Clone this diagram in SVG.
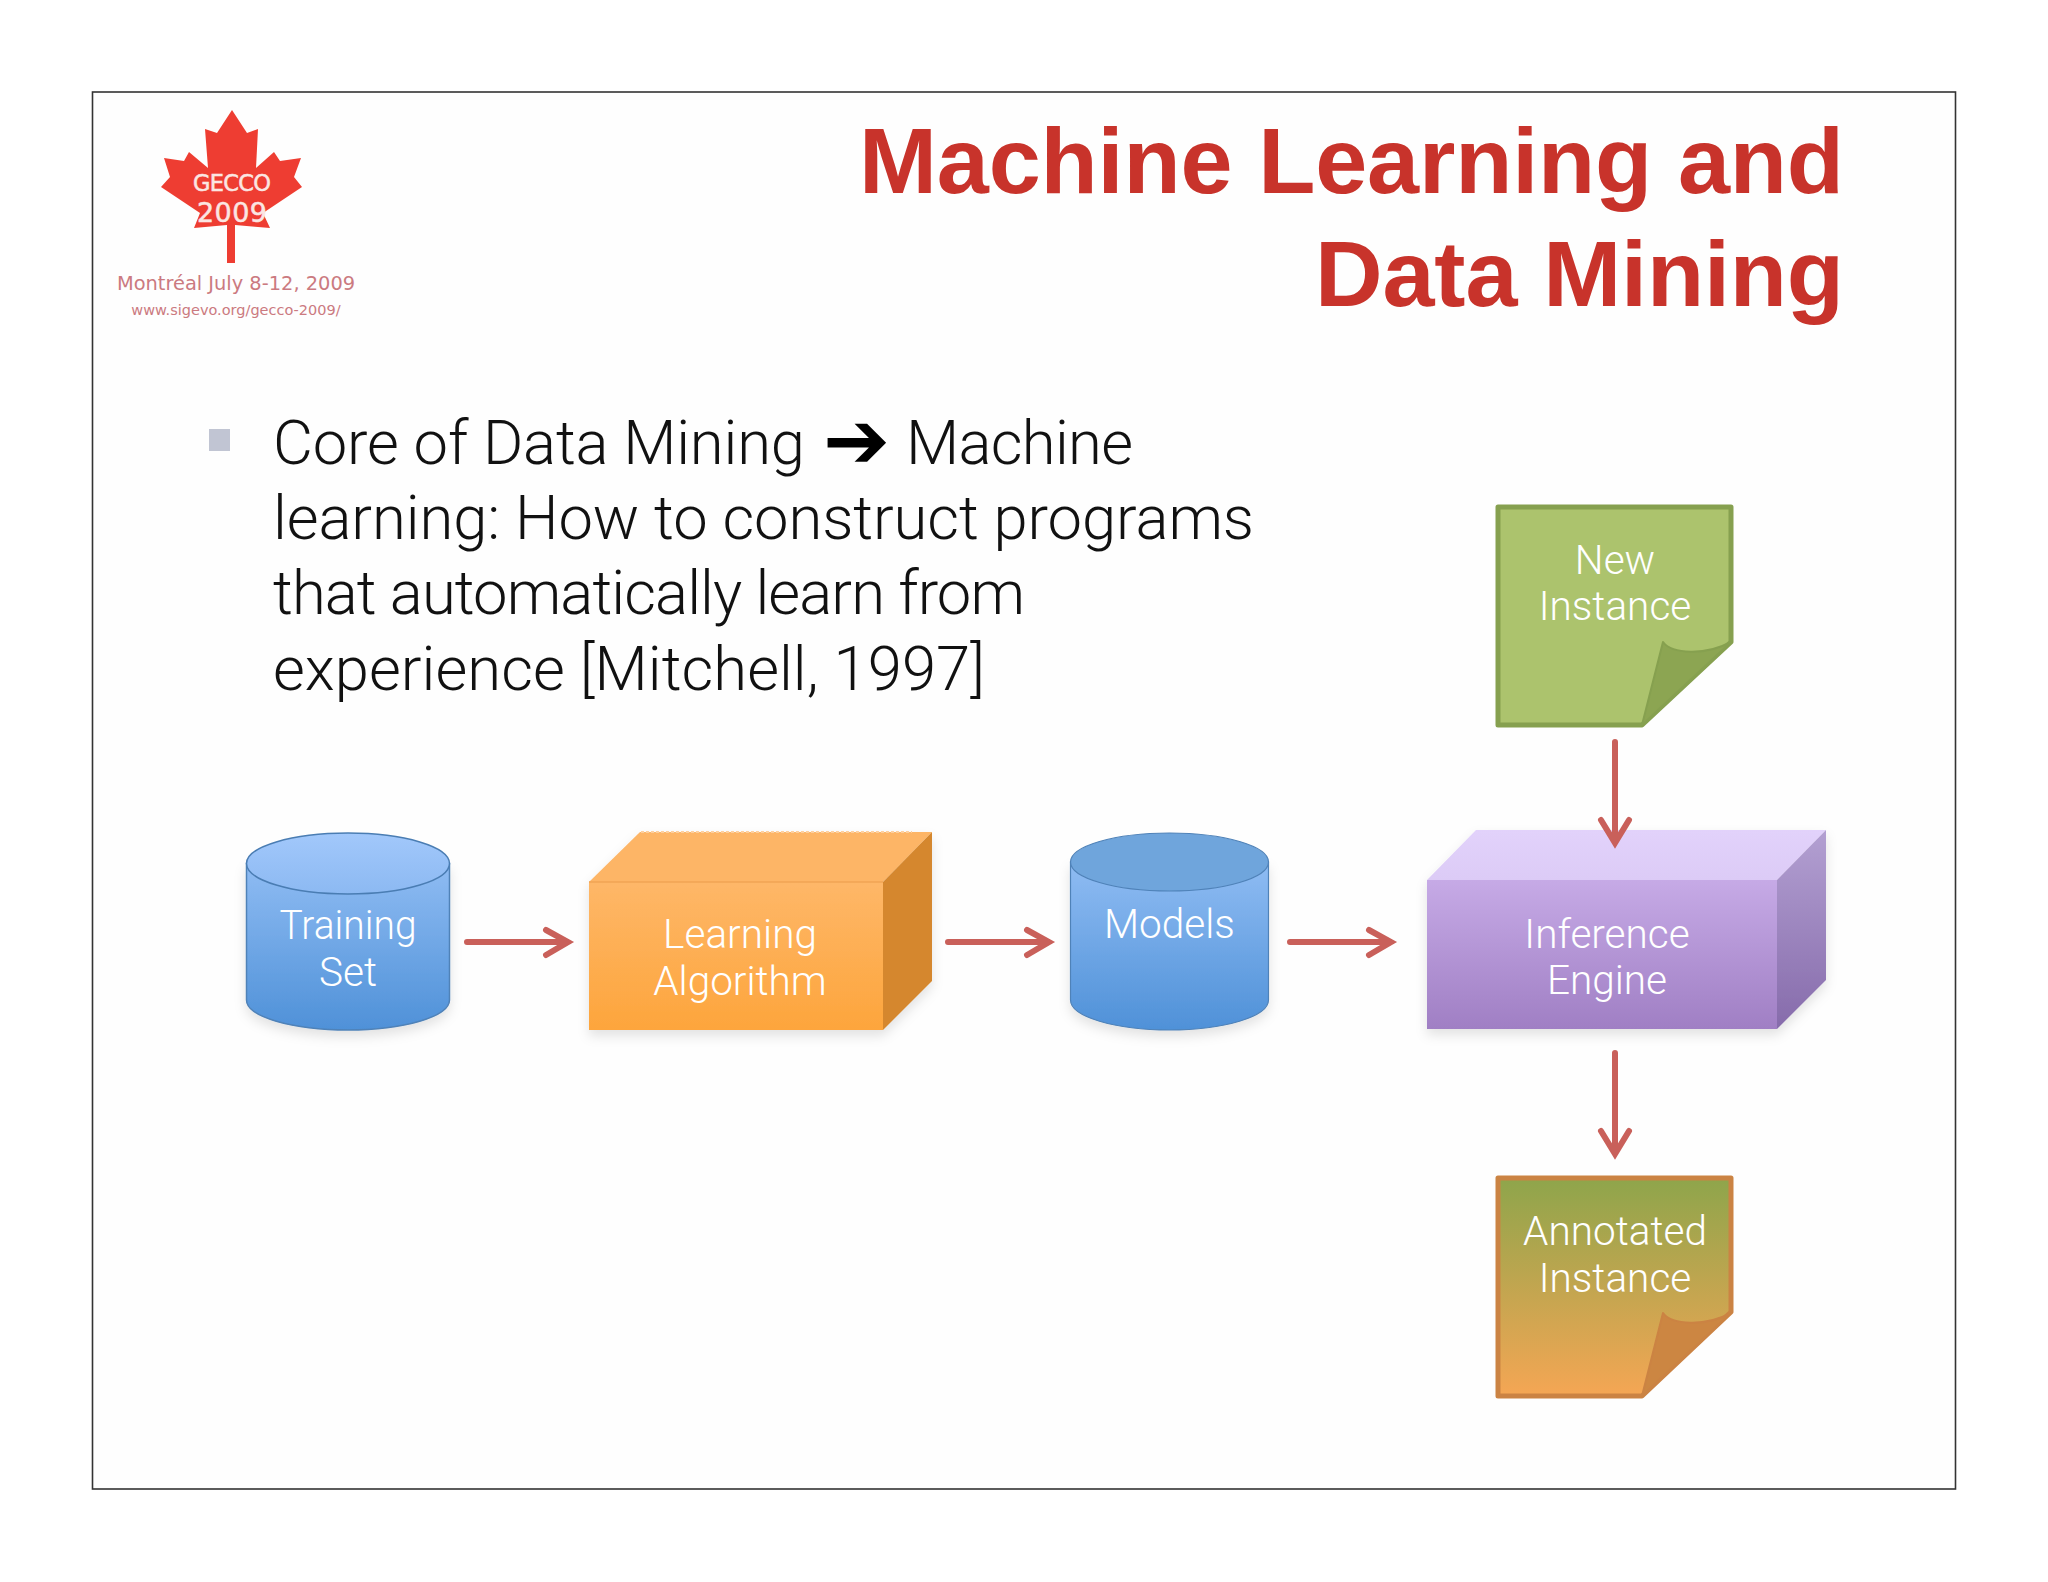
<svg xmlns="http://www.w3.org/2000/svg" width="2048" height="1582" viewBox="0 0 2048 1582">
<defs>
<style>
.t{font-family:"Liberation Sans",Arial,sans-serif;font-weight:700;font-size:93.6px;fill:#c8332b;text-anchor:end}
.b{font-family:Roboto,"Liberation Sans",sans-serif;font-weight:300;font-size:61.5px;fill:#111}
.n{font-family:Roboto,"Liberation Sans",sans-serif;font-weight:300;font-size:40.5px;fill:#fff;text-anchor:middle}
.l{font-family:"DejaVu Sans",sans-serif;text-anchor:middle}
.a{fill:none;stroke:#c9605a;stroke-width:6;stroke-linecap:round;stroke-linejoin:miter}
</style>
<linearGradient id="cy" x1="0" y1="0" x2="0" y2="1"><stop offset="0" stop-color="#8fbcf3"/><stop offset="1" stop-color="#4f91d8"/></linearGradient>
<linearGradient id="cyt" x1="0" y1="0" x2="0" y2="1"><stop offset="0" stop-color="#a2c8fb"/><stop offset="1" stop-color="#8cb9f2"/></linearGradient>
<linearGradient id="of" x1="0" y1="0" x2="0" y2="1"><stop offset="0" stop-color="#feb768"/><stop offset="1" stop-color="#fda53c"/></linearGradient>
<linearGradient id="pf" x1="0" y1="0" x2="0" y2="1"><stop offset="0" stop-color="#c6aae6"/><stop offset="1" stop-color="#a07fc4"/></linearGradient>
<linearGradient id="pt" x1="0" y1="0" x2="0" y2="1"><stop offset="0" stop-color="#e2d2fb"/><stop offset="1" stop-color="#dccbf6"/></linearGradient>
<linearGradient id="ps" x1="0" y1="0" x2="0" y2="1"><stop offset="0" stop-color="#b3a0d2"/><stop offset="1" stop-color="#866bab"/></linearGradient>
<linearGradient id="an" x1="0" y1="0" x2="0" y2="1"><stop offset="0" stop-color="#8ea54b"/><stop offset="1" stop-color="#f5a654"/></linearGradient>
<filter id="sh" x="-10%" y="-10%" width="120%" height="125%"><feDropShadow dx="0" dy="6" stdDeviation="6" flood-color="#000" flood-opacity="0.11"/></filter>
<filter id="soft" x="-5%" y="-5%" width="110%" height="110%"><feGaussianBlur stdDeviation="0.6"/></filter>
</defs>
<rect width="2048" height="1582" fill="#fff"/>
<rect id="frame" x="92.5" y="92" width="1863" height="1397" fill="#fefefe" stroke="#333" stroke-width="1.6"/>

<g id="logo">
<polygon filter="url(#soft)" fill="#ee3e30" points="232,110 247,133 258,129 256,168 274,152 280,161 301,158 294,177 302,187 263,213 270,228 235,225 235,263 227,263 227,225 194,228 200,213 161,187 170,177 164,158 184,161 189,152 208,168 205,129 217,133"/>
<text class="l" x="232" y="191" font-size="22.5" fill="#fbe6e2" textLength="78" stroke="#fbe6e2" stroke-width="0.5">GECCO</text>
<text class="l" x="232" y="222" font-size="27" fill="#fbe6e2" textLength="70" stroke="#fbe6e2" stroke-width="0.5">2009</text>
<text class="l" x="236" y="290" font-size="19.4" fill="#cb7a80">Montréal July 8-12, 2009</text>
<text class="l" x="236" y="315" font-size="14.5" fill="#cb7a80">www.sigevo.org/gecco-2009/</text>
</g>

<g id="title">
<text class="t" x="1844" y="193" textLength="985">Machine Learning and</text>
<text class="t" x="1844" y="306" textLength="529">Data Mining</text>
</g>

<g id="body">
<rect x="209" y="429" width="21" height="22" fill="#c1c5d3"/>
<text class="b" x="273" y="464" textLength="532">Core of Data Mining</text>
<text x="823" y="468" font-family="DejaVu Sans,sans-serif" font-size="80" fill="#000">➔</text>
<text class="b" x="906" y="464" textLength="227">Machine</text>
<text class="b" x="273" y="539" textLength="981">learning: How to construct programs</text>
<text class="b" x="273" y="614" textLength="752">that automatically learn from</text>
<text class="b" x="273" y="690" textLength="712">experience [Mitchell, 1997]</text>
</g>

<g id="training-set">
<path d="M246.5 863.5V1000A101.5 30 0 0 0 449.5 1000V863.5Z" fill="url(#cy)" stroke="#4f82b8" stroke-width="1.5" filter="url(#sh)"/>
<ellipse cx="348" cy="863.5" rx="101.5" ry="30.5" fill="url(#cyt)" stroke="#4a7db3" stroke-width="1.5"/>
<text class="n" x="348" y="939" textLength="137" lengthAdjust="spacingAndGlyphs">Training</text>
<text class="n" x="348" y="986">Set</text>
</g>

<g id="learning-algorithm">
<g filter="url(#sh)">
<polygon points="589,882 640,832 932,832 883,882" fill="#fdb566"/>
<polygon points="883,882 932,832 932,981 883,1030" fill="#d5872d"/>
<rect x="589" y="882" width="294" height="148" fill="url(#of)"/>
</g>
<line x1="589" y1="882" x2="883" y2="882" stroke="#f0a455" stroke-width="1.5"/>
<line x1="641" y1="832" x2="912" y2="832" stroke="#fdd0a0" stroke-width="2" stroke-dasharray="3 2"/>
<text class="n" x="740" y="948">Learning</text>
<text class="n" x="740" y="995">Algorithm</text>
</g>

<g id="models">
<path d="M1070.5 862V1000A99 30 0 0 0 1268.5 1000V862Z" fill="url(#cy)" stroke="#4f82b8" stroke-width="1.2" filter="url(#sh)"/>
<ellipse cx="1169.5" cy="862" rx="99" ry="29" fill="#6fa5dc" stroke="#4f82b8" stroke-width="1.2"/>
<text class="n" x="1169.5" y="938">Models</text>
</g>

<g id="inference-engine">
<g filter="url(#sh)">
<polygon points="1427,880 1476,830 1826,830 1777,880" fill="url(#pt)"/>
<polygon points="1777,880 1826,830 1826,980 1777,1029" fill="url(#ps)"/>
<rect x="1427" y="880" width="350" height="149" fill="url(#pf)"/>
</g>
<text class="n" x="1607" y="948">Inference</text>
<text class="n" x="1607" y="994">Engine</text>
</g>

<g id="new-instance">
<path d="M1498 507H1731V642L1642 725H1498Z" fill="#acc36d" stroke="#86a04f" stroke-width="5" stroke-linejoin="round"/>
<path d="M1642 725L1663 642C1672 654 1705 656 1731 642Z" fill="#8ca552" stroke="#86a04f" stroke-width="2" stroke-linejoin="round"/>
<text class="n" x="1615" y="574">New</text>
<text class="n" x="1615" y="620">Instance</text>
</g>

<g id="annotated-instance">
<path d="M1498 1178H1731V1312L1642 1396H1498Z" fill="url(#an)" stroke="#cb8343" stroke-width="5" stroke-linejoin="round"/>
<path d="M1642 1396L1663 1313C1672 1325 1705 1327 1731 1313Z" fill="#cc8642" stroke="#cb8343" stroke-width="2" stroke-linejoin="round"/>
<text class="n" x="1615" y="1245">Annotated</text>
<text class="n" x="1615" y="1292">Instance</text>
</g>

<g id="connectors">
<path class="a" d="M467 942H567M546 930L568 942L546 955"/>
<path class="a" d="M948 942H1048M1027 930L1049 942L1027 955"/>
<path class="a" d="M1290 942H1390M1369 930L1391 942L1369 955"/>
<path class="a" d="M1615 742V842M1601 820L1615 843L1629 820"/>
<path class="a" d="M1615 1053V1153M1601 1131L1615 1154L1629 1131"/>
</g>
</svg>
